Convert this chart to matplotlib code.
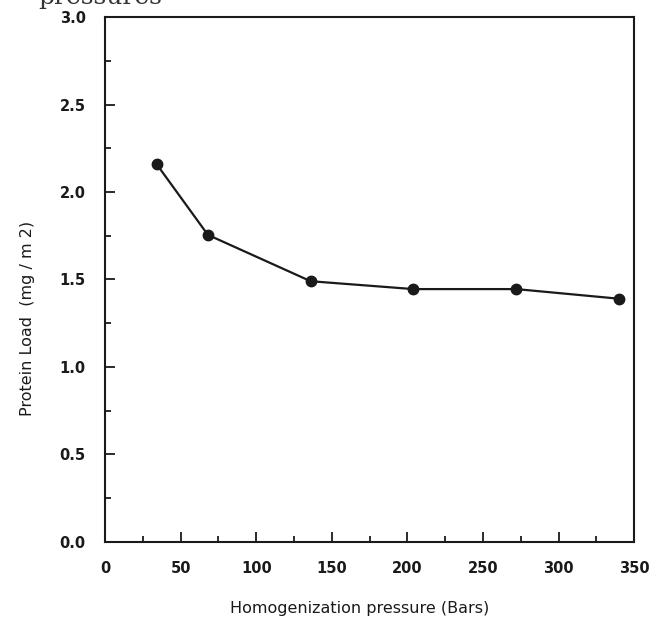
import matplotlib.pyplot as plt
from matplotlib.ticker import MultipleLocator

pressure = [34, 68, 136, 204, 272, 340]
protein_load = [2.16, 1.755, 1.49, 1.445, 1.445, 1.39]

x_ticks = [0, 50, 100, 150, 200, 250, 300, 350]
y_ticks = [0.0, 0.5, 1.0, 1.5, 2.0, 2.5, 3.0]

fig = plt.figure(figsize=(6.53, 6.33), dpi=100)
ax = fig.add_axes([0.161, 0.144, 0.81, 0.829])

ax.plot(pressure, protein_load, color='#1a1a1a', linewidth=1.6,
        marker='o', markersize=7.5, markerfacecolor='#1a1a1a')

ax.set_xlim(0, 350)
ax.set_ylim(0, 3.0)
ax.set_xticks(x_ticks)
ax.set_yticks(y_ticks)
ax.set_yticklabels(['%.1f' % v for v in y_ticks])
ax.xaxis.set_minor_locator(MultipleLocator(25))
ax.yaxis.set_minor_locator(MultipleLocator(0.25))

ax.tick_params(which='both', direction='in', top=False, right=False,
               labelsize=10.5, width=1.3, colors='#1a1a1a')
ax.tick_params(which='major', length=7)
ax.tick_params(which='minor', length=4)
ax.tick_params(axis='x', pad=14)
ax.tick_params(axis='y', pad=14)
for lbl in ax.get_xticklabels() + ax.get_yticklabels():
    lbl.set_fontweight('semibold')
for s in ax.spines.values():
    s.set_linewidth(1.5)
    s.set_color('#1a1a1a')

fig.text(360 / 653, 1 - 608 / 633, 'Homogenization pressure (Bars)',
         ha='center', va='center', fontsize=11.5, color='#1a1a1a')
fig.text(28 / 653, 1 - 318 / 633, 'Protein Load  (mg / m 2)',
         ha='center', va='center', rotation=90, fontsize=11.5, color='#1a1a1a')

# cut-off caption line from the page above (only its lower edge shows)
fig.text(38 / 653, 1 - 4 / 633, 'pressures', ha='left', va='baseline',
         fontsize=18, family='DejaVu Serif', color='#333333')

fig.savefig('out.png', dpi=100)
